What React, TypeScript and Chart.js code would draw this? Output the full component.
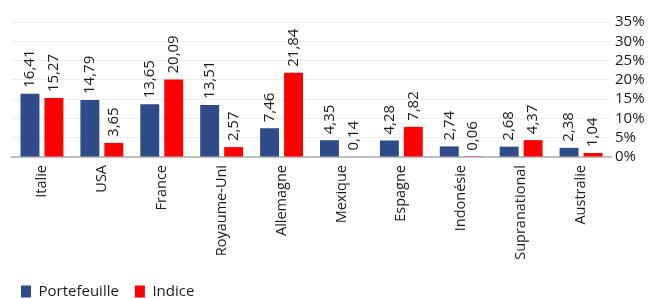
import React, { useEffect, useRef } from "react";
import { Chart, registerables } from "chart.js";

Chart.register(...registerables);

const categories = ["Italie", "USA", "France", "Royaume-Uni", "Allemagne", "Mexique", "Espagne", "Indonésie", "Supranational", "Australie"];
const portefeuille = [16.41, 14.79, 13.65, 13.51, 7.46, 4.35, 4.28, 2.74, 2.68, 2.38];
const indice = [15.27, 3.65, 20.09, 2.57, 21.84, 0.14, 7.82, 0.06, 4.37, 1.04];
const yTicks = [0, 5, 10, 15, 20, 25, 30, 35];

const FONT = "'Open Sans', 'Noto Sans', sans-serif";
const TEXT = "#1a1a1a";

const valueLabels = {
  id: "valueLabels",
  afterDatasetsDraw(chart: any) {
    const ctx = chart.ctx;
    ctx.save();
    ctx.font = `15px ${FONT}`;
    ctx.fillStyle = TEXT;
    ctx.textAlign = "left";
    ctx.textBaseline = "middle";
    chart.data.datasets.forEach((ds: any, di: number) => {
      const meta = chart.getDatasetMeta(di);
      meta.data.forEach((el: any, i: number) => {
        const v = ds.data[i] as number;
        const txt = v.toFixed(2).replace(".", ",");
        ctx.save();
        ctx.translate(el.x, el.y - 6);
        ctx.rotate(-Math.PI / 2);
        ctx.fillText(txt, 0, 0);
        ctx.restore();
      });
    });
    ctx.restore();
  },
};

const legendShift = {
  id: "legendShift",
  afterLayout(chart: any) {
    if (chart.legend) chart.legend.left -= 7;
  },
};

export default function App() {
  const ref = useRef<HTMLCanvasElement>(null);
  useEffect(() => {
    if (!ref.current) return;
    const chart = new Chart(ref.current, {
      type: "bar",
      data: {
        labels: categories,
        datasets: [
          { label: "Portefeuille", data: portefeuille, backgroundColor: "#2f4b89", categoryPercentage: 0.8, barPercentage: 0.79 },
          { label: "Indice", data: indice, backgroundColor: "#ff0000", categoryPercentage: 0.8, barPercentage: 0.79 },
        ],
      },
      options: {
        animation: false,
        responsive: true,
        maintainAspectRatio: false,
        layout: { padding: { top: 22, left: 12, right: 0, bottom: -11 } },
        plugins: {
          tooltip: { enabled: false },
          legend: {
            position: "bottom",
            align: "start",
            labels: {
              boxWidth: 10,
              boxHeight: 12,
              padding: 16,
              color: TEXT,
              font: { family: FONT, size: 15 },
            },
          },
        },
        scales: {
          x: {
            grid: { display: false, drawTicks: false },
            border: { display: true, color: "#bfbfbf", width: 2 },
            ticks: {
              minRotation: 90,
              maxRotation: 90,
              padding: 8,
              autoSkip: false,
              color: TEXT,
              font: { family: FONT, size: 14.5 },
            },
            afterFit: (s: any) => { s.height = 111; },
          },
          y: {
            position: "right",
            min: 0,
            max: 35,
            afterBuildTicks: (s: any) => { s.ticks = yTicks.map((v) => ({ value: v })); },
            grid: { color: "#eeeeee", drawTicks: false },
            border: { display: false },
            ticks: {
              padding: 4,
              autoSkip: false,
              color: TEXT,
              font: { family: FONT, size: 15 },
              callback: (v: any) => `${v}%`,
            },
            afterFit: (s: any) => { s.width = 37; },
          },
        },
      },
      plugins: [valueLabels, legendShift],
    });
    return () => chart.destroy();
  }, []);
  return (
    <div style={{ position: "fixed", left: 0, top: 0, width: 648, height: 298, background: "#fff" }}>
      <canvas ref={ref} />
    </div>
  );
}
